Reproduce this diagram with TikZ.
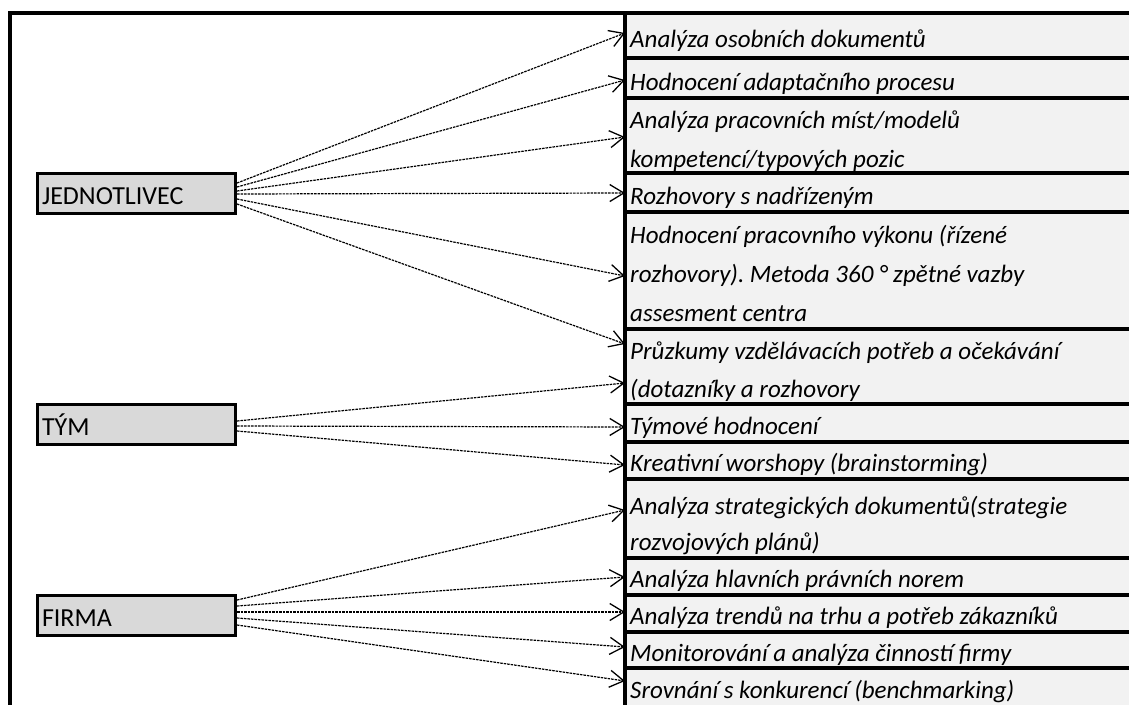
\documentclass[tikz,border=0pt]{standalone}
\usepackage{fontspec}
\setmainfont{Carlito}
\usetikzlibrary{arrows.meta}
\definecolor{cellfill}{HTML}{F2F2F2}
\definecolor{boxfill}{HTML}{D9D9D9}
\frenchspacing
\tikzset{
  frame/.style={line width=4pt, line cap=rect},
  rowline/.style={line width=3.5pt},
  srcbox/.style={draw, line width=3pt, fill=boxfill, minimum width=198pt, minimum height=40pt,
    text width=188pt, align=left, inner xsep=5pt, inner ysep=0pt, text height=24pt, text depth=2pt,
    font=\fontsize{26}{30}\selectfont},
  txt/.style={anchor=base west, inner sep=0pt, font=\fontsize{25}{30}\selectfont\itshape},
  conn/.style={line width=1.2pt, dash pattern=on 2.5pt off 1pt,
    -{Straight Barb[length=14pt,width=17pt,line width=1.3pt]}}
}
\begin{document}
\begin{tikzpicture}[x=1pt,y=-1pt]
\useasboundingbox (0,0) rectangle (1129,704);
% right column of cells
\fill[cellfill] (625,13) rectangle (1135,710);
\foreach \yy in {58,98,173,212,329,404,442,479,558,595,632,668}
  \draw[rowline] (625,\yy) -- (1135,\yy);
\draw[frame] (625,710) -- (625,13);
\draw[frame] (10,710) -- (10,13) -- (1135,13);

% source boxes
\node[srcbox] (jed) at (136,193) {JEDNOTLIVEC};
\node[srcbox] (tym) at (136,424) {TÝM};
\node[srcbox] (firma) at (136,615) {FIRMA};

% texts
\node[txt] (t1) at (630,47) {Analýza osobních dokumentů};
\node[txt] (t2) at (630,90) {Hodnocení adaptačního procesu};
\node[txt] (t3a) at (630,128) {Analýza pracovních míst/modelů};
\node[txt] (t3b) at (630,167) {kompetencí/typových pozic};
\node[txt] (t4) at (630,204) {Rozhovory s nadřízeným};
\node[txt] (t5a) at (630,243) {Hodnocení pracovního výkonu (řízené};
\node[txt] (t5b) at (630,282) {rozhovory). Metoda 360 ° zpětné vazby};
\node[txt] (t5c) at (630,321) {assesment centra};
\node[txt] (t6a) at (630,359) {Průzkumy vzdělávacích potřeb a očekávání};
\node[txt] (t6b) at (630,397) {(dotazníky a rozhovory};
\node[txt] (t7) at (630,434) {Týmové hodnocení};
\node[txt] (t8) at (630,471) {Kreativní worshopy (brainstorming)};
\node[txt] (t9a) at (630,514) {Analýza strategických dokumentů(strategie};
\node[txt] (t9b) at (630,550) {rozvojových plánů)};
\node[txt] (t10) at (630,587) {Analýza hlavních právních norem};
\node[txt] (t11) at (630,624) {Analýza trendů na trhu a potřeb zákazníků};
\node[txt] (t12) at (630,661) {Monitorování a analýza činností firmy};
\node[txt] (t13) at (630,698) {Srovnání s konkurencí (benchmarking)};

% connector end points
\coordinate (e1) at (625,33);
\coordinate (e2) at (625,80);
\coordinate (e3) at (625,137);
\coordinate (e4) at (625,193);
\coordinate (e5) at (625,276);
\coordinate (e6) at (625,344);
\coordinate (e7) at (625,383);
\coordinate (e8) at (625,427);
\coordinate (e9) at (625,465);
\coordinate (e10) at (625,510);
\coordinate (e11) at (625,577);
\coordinate (e12) at (625,612);
\coordinate (e13) at (625,647);
\coordinate (e14) at (625,681);

% start points on boxes
\coordinate (j1) at (237,183);
\coordinate (j2) at (237,187);
\coordinate (j3) at (237,191);
\coordinate (j4) at (237,194);
\coordinate (j5) at (237,199);
\coordinate (j6) at (237,204);
\coordinate (y1) at (237,421);
\coordinate (y2) at (237,426);
\coordinate (y3) at (237,431);
\coordinate (f1) at (237,600);
\coordinate (f2) at (237,606);
\coordinate (f3) at (237,612);
\coordinate (f4) at (237,618);
\coordinate (f5) at (237,625);

\draw[conn] (j1) -- (e1);
\draw[conn] (j2) -- (e2);
\draw[conn] (j3) -- (e3);
\draw[conn] (j4) -- (e4);
\draw[conn] (j5) -- (e5);
\draw[conn] (j6) -- (e6);
\draw[conn] (y1) -- (e7);
\draw[conn] (y2) -- (e8);
\draw[conn] (y3) -- (e9);
\draw[conn] (f1) -- (e10);
\draw[conn] (f2) -- (e11);
\draw[conn] (f3) -- (e12);
\draw[conn] (f4) -- (e13);
\draw[conn] (f5) -- (e14);
\end{tikzpicture}
\end{document}
